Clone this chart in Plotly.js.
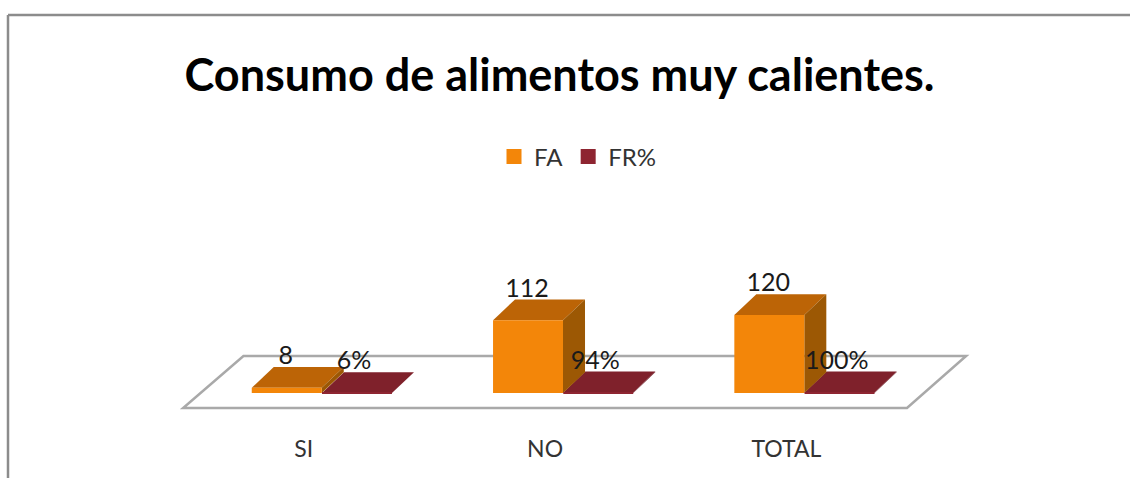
<!DOCTYPE html>
<html>
<head>
<meta charset="utf-8">
<script src="https://cdn.plot.ly/plotly-3.0.1.min.js"></script>
<style>html,body{margin:0;padding:0;background:#fff}#c{width:1130px;height:478px}</style>
</head>
<body>
<div id="c"></div>
<script>
var categories = ["SI", "NO", "TOTAL"];
var faValues = [8, 112, 120];
var frValues = [0.06, 0.94, 1];
var faLabels = ["8", "112", "120"];
var frLabels = ["6%", "94%", "100%"];
var seriesNames = ["FA", "FR%"];

var W = 1130, H = 478;
var left = 159, right = 990, top_ = 250, bottom = 415;
var pos = categories.map(function (_, i) { return i; });
var xr = [-0.6, 2.844];
var yr = [-33.8, 220];
var barW = 0.29, faOff = -0.2156, frOff = 0.0755;
var dx = 0.0912, dy = 32;
var FF = "Lato, 'Noto Sans', sans-serif";

var colors = {fa:"#F38609", faTop:"#BC6406", faSide:"#9C5804", fr:"#8E2531", frTop:"#7F212B", frSide:"#66121c"};

function path(pts){ return "M"+pts.map(function(p){return p[0]+","+p[1];}).join("L")+"Z"; }
function box(x0, v, top, side){
  var x1 = x0 + barW;
  return [
    {type:"path", layer:"below", xref:"x", yref:"y", line:{width:0}, fillcolor:top,
     path:path([[x0,v],[x1,v],[x1+dx,v+dy],[x0+dx,v+dy]])},
    {type:"path", layer:"below", xref:"x", yref:"y", line:{width:0}, fillcolor:side,
     path:path([[x1,0],[x1,v],[x1+dx,v+dy],[x1+dx,dy]])}
  ];
}
var shapes = [];
shapes.push({type:"path", layer:"below", xref:"x", yref:"y", fillcolor:"#fff", line:{color:"#a9a9a9", width:2.5},
  path:path([[-0.5,-23],[2.5,-23],[2.745,57],[-0.25,57]])});
pos.forEach(function(p,i){
  shapes = shapes.concat(box(p+frOff, frValues[i], colors.frTop, colors.frSide));
  shapes = shapes.concat(box(p+faOff, faValues[i], colors.faTop, colors.faSide));
});
function px(x){return (x-left)/(right-left);}
function py(y){return (bottom-y)/(bottom-top_)}
shapes.push({type:"line", xref:"paper", yref:"paper", x0:px(8), x1:px(8), y0:py(15), y1:py(478), line:{color:"#8c8c8c", width:2.5}});
shapes.push({type:"line", xref:"paper", yref:"paper", x0:px(8), x1:px(1130), y0:py(15), y1:py(15), line:{color:"#8c8c8c", width:2.5}});

var lift = 46;
var labelFont = {family:FF,size:25,color:"#1a1a1a"};
var traces = [
  {type:"bar", name:seriesNames[0], legendgroup:"fa", showlegend:false, x:pos, y:faValues, width:barW, offset:faOff, marker:{color:colors.fa}, hoverinfo:"y"},
  {type:"bar", name:seriesNames[1], legendgroup:"fr", showlegend:false, x:pos, y:frValues, width:barW, offset:frOff, marker:{color:colors.fr}, hoverinfo:"y"},
  {type:"scatter", mode:"markers", name:seriesNames[0], legendgroup:"fa", x:[null], y:[null], marker:{symbol:"square", size:15, color:colors.fa}, hoverinfo:"skip"},
  {type:"scatter", mode:"markers", name:seriesNames[1], legendgroup:"fr", x:[null], y:[null], marker:{symbol:"square", size:15, color:colors.fr}, hoverinfo:"skip"},
  {type:"scatter", mode:"text", showlegend:false, hoverinfo:"skip", cliponaxis:false,
   x:pos.map(function(p){return p+faOff+barW/2-0.004;}), y:faValues.map(function(v){return v+lift;}),
   text:faLabels, textposition:"middle center", textfont:labelFont},
  {type:"scatter", mode:"text", showlegend:false, hoverinfo:"skip", cliponaxis:false,
   x:pos.map(function(p){return p+frOff+barW/2-0.012;}), y:frValues.map(function(v){return v+lift;}),
   text:frLabels, textposition:"middle center", textfont:labelFont}
];
var layout = {
  width:W, height:H, paper_bgcolor:"#fff", plot_bgcolor:"rgba(0,0,0,0)",
  margin:{l:left, r:W-right, t:top_, b:H-bottom, pad:0},
  barmode:"overlay",
  title:{text:"<b>Consumo de alimentos muy calientes.</b>", xref:"container", yref:"container", x:559.5/W, xanchor:"center", y:1-75/H, yanchor:"middle",
    font:{family:FF, size:45, color:"#000"}},
  xaxis:{range:xr, tickmode:"array", tickvals:pos, ticktext:categories, showgrid:false, zeroline:false, showline:false, ticks:"", ticklabelstandoff:18,
    tickfont:{family:FF,size:23,color:"#333"}},
  yaxis:{range:yr, visible:false, showgrid:false, zeroline:false},
  legend:{orientation:"h", xref:"paper", yref:"paper", x:px(578), xanchor:"center", y:py(157), yanchor:"middle",
    font:{family:FF,size:24,color:"#333"}, itemwidth:30, bgcolor:"rgba(0,0,0,0)"},
  shapes:shapes, showlegend:true
};
Plotly.newPlot("c", traces, layout, {displayModeBar:false, responsive:false});
</script>
</body>
</html>
